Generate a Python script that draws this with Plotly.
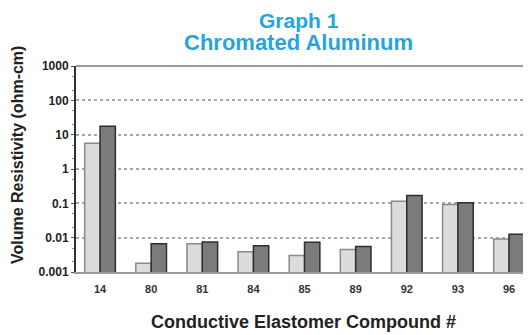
import plotly.graph_objects as go

compounds = ['14', '80', '81', '84', '85', '89', '92', '93', '96']
light_vals = [5.6, 0.0018, 0.0066, 0.0039, 0.0030, 0.0045, 0.115, 0.092, 0.0092]
dark_vals = [17.5, 0.0066, 0.0075, 0.0058, 0.0074, 0.0055, 0.17, 0.104, 0.0125]
y_ticks = [0.001, 0.01, 0.1, 1, 10, 100, 1000]
y_labels = ['0.001', '0.01', '0.1', '1', '10', '100', '1000']

FONT = 'Liberation Sans, Arial, sans-serif'
BLUE = '#27a4df'
# page body has a default 8px margin, so the figure is drawn 8px smaller
OFF = 8

fig = go.Figure()
fig.add_trace(go.Bar(
    x=compounds, y=light_vals, name='A',
    marker=dict(color='#dcdcdc', line=dict(color='#8a8a8a', width=1.5)),
))
fig.add_trace(go.Bar(
    x=compounds, y=dark_vals, name='B',
    marker=dict(color='#7b7b7b', line=dict(color='#2e2e2e', width=1.5)),
))

fig.update_layout(
    width=531 - OFF, height=335 - OFF,
    margin=dict(l=76 - OFF, r=0, t=66 - OFF, b=63),
    paper_bgcolor='white', plot_bgcolor='white',
    barmode='group', bargap=0.4, bargroupgap=0.0,
    showlegend=False,
    font=dict(family=FONT, color='#222'),
    xaxis=dict(
        type='category', range=[-0.47, 8.43], automargin=False,
        showline=True, linecolor='#9a9a9a', linewidth=2,
        ticks='', tickfont=dict(size=11, color='#333'),
        ticklabelstandoff=6,
        tickvals=compounds, ticktext=['<b>%s</b>' % c for c in compounds],
        title=dict(text='<b>Conductive Elastomer Compound #</b>',
                   font=dict(size=18, color='#222'), standoff=21),
    ),
    yaxis=dict(
        type='log', range=[-3, 3], automargin=False,
        tickvals=y_ticks, ticktext=['<b>%s</b>' % t for t in y_labels],
        tickfont=dict(size=12, color='#222'),
        showline=True, linecolor='#333', linewidth=2,
        ticks='outside', ticklen=3, tickcolor='#555',
        minor=dict(ticks='outside', ticklen=2, tickcolor='#888', showgrid=False),
        showgrid=True, gridcolor='#a8a8a8', griddash='dot', gridwidth=1.5,
        zeroline=False,
    ),
    annotations=[
        dict(text='<b>Graph 1</b>', x=0.49, y=1.0, xref='paper', yref='paper',
             xanchor='center', yanchor='middle', yshift=46, showarrow=False,
             font=dict(size=21, color=BLUE, family=FONT)),
        dict(text='<b>Chromated Aluminum</b>', x=0.49, y=1.0, xref='paper', yref='paper',
             xanchor='center', yanchor='middle', yshift=24, showarrow=False,
             font=dict(size=22, color=BLUE, family=FONT)),
        dict(text='<b>Volume Resistivity (ohm-cm)</b>', x=0, y=0.568,
             xref='paper', yref='paper', xanchor='center', yanchor='middle',
             xshift=-58, textangle=-90, showarrow=False,
             font=dict(size=16, color='#222', family=FONT)),
    ],
    shapes=[
        dict(type='line', xref='paper', yref='paper', x0=0, x1=1, y0=1, y1=1,
             line=dict(color='#9a9a9a', width=2)),
    ],
)

fig.write_html('out.html')
